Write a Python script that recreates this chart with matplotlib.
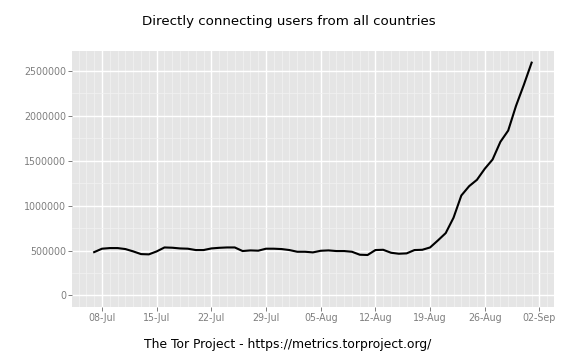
import matplotlib
matplotlib.use("Agg")
import matplotlib.pyplot as plt
import matplotlib.dates as mdates
import numpy as np
import datetime as dt

start_date = "2013-07-07"
users = [482, 520, 527, 527, 516, 490, 460, 457, 490, 534,
         531, 523, 520, 505, 505, 523, 530, 534, 534, 494,
         501, 498, 520, 520, 516, 505, 486, 486, 479, 497,
         501, 494, 494, 486, 453, 450, 505, 508, 475, 464,
         468, 505, 508, 534, 612, 694, 865, 1113, 1217, 1288,
         1411, 1514, 1711, 1837, 2112, 2346, 2594]
users = [u * 1000 for u in users]
title = "Directly connecting users from all countries"
caption = "The Tor Project - https://metrics.torproject.org/"
y_ticks = [0, 500000, 1000000, 1500000, 2000000, 2500000]

d0 = dt.datetime.strptime(start_date, "%Y-%m-%d")
dates = [d0 + dt.timedelta(days=i) for i in range(len(users))]
xnum = mdates.date2num(dates)

W, H = 576, 360
fig = plt.figure(figsize=(W / 72, H / 72), dpi=72)
left, right, top, bottom = 72.3, 553.5, 51, 307
ax = fig.add_axes([left / W, 1 - bottom / H, (right - left) / W, (bottom - top) / H])
ax.set_facecolor("#E5E5E5")
for s in ax.spines.values():
    s.set_visible(False)

xr = xnum[-1] - xnum[0]
ax.set_xlim(xnum[0] - 0.05 * xr, xnum[-1] + 0.05 * xr)
ymax = max(users)
ax.set_ylim(-0.05 * ymax, 1.05 * ymax)

ax.xaxis.set_major_locator(mdates.WeekdayLocator(byweekday=mdates.MO))
ax.xaxis.set_minor_locator(mdates.DayLocator())
ax.xaxis.set_major_formatter(mdates.DateFormatter("%d-%b"))
ax.set_yticks(y_ticks)
ax.set_yticklabels([str(v) for v in y_ticks])
ax.yaxis.set_minor_locator(matplotlib.ticker.MultipleLocator(250000))

ax.grid(which="minor", color="#F2F2F2", linewidth=0.7)
ax.grid(which="major", color="white", linewidth=1.4)
ax.set_axisbelow(True)
ax.tick_params(which="major", length=4, width=1, color="#7F7F7F",
               labelcolor="#7F7F7F", labelsize=9.5, pad=2)
ax.tick_params(which="minor", length=0)

ax.plot(xnum, users, color="black", linewidth=2.1, solid_joinstyle="round")

fig.text(288.5 / W, 1 - 22 / H, title, ha="center", va="center", fontsize=13.4)
fig.text(288 / W, 1 - 344.5 / H, caption, ha="center", va="center", fontsize=12.4)

fig.savefig("out.png", dpi=72)
